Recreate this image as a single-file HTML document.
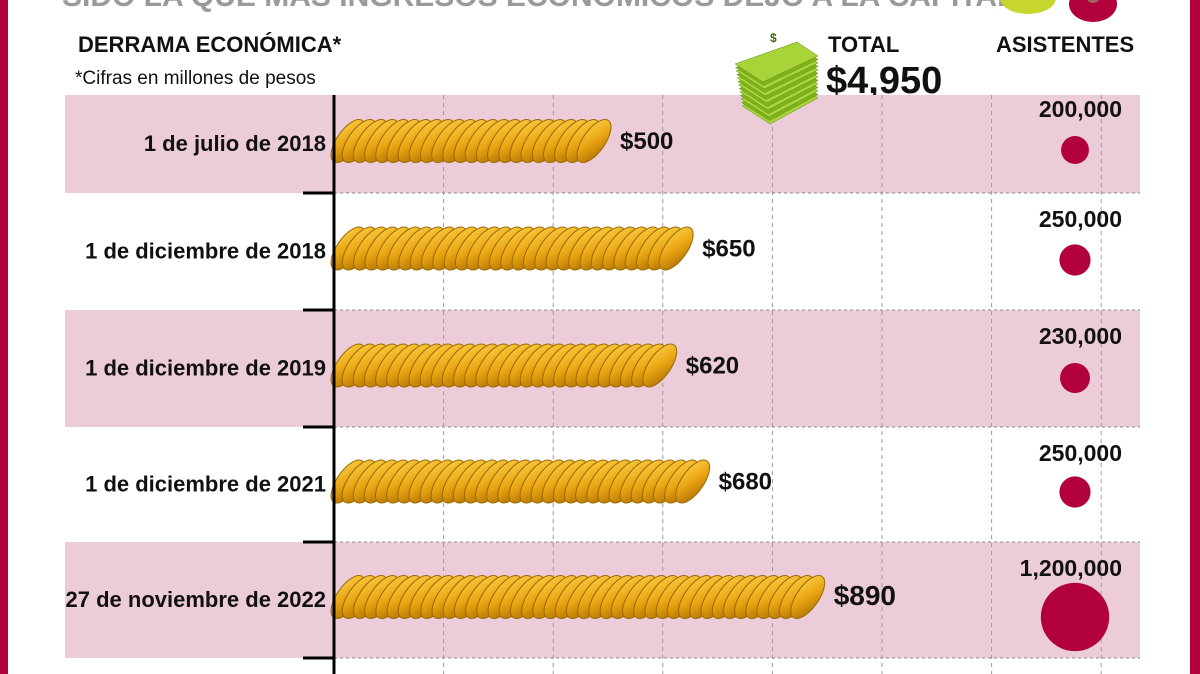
<!DOCTYPE html>
<html><head><meta charset="utf-8"><style>
html,body{margin:0;padding:0;background:#fff;}
body{width:1200px;height:674px;overflow:hidden;position:relative;font-family:"Liberation Sans Narrow","Liberation Sans",sans-serif;}
svg{position:absolute;left:0;top:0;}
text{font-family:"Liberation Sans Narrow","Liberation Sans",sans-serif;}
</style></head><body>
<svg id="chart" width="1200" height="674">
<defs>
<linearGradient id="coin" x1="0" y1="0" x2="1" y2="1">
<stop offset="0" stop-color="#ffd24a"/><stop offset="0.5" stop-color="#e9a412"/><stop offset="1" stop-color="#a86a00"/>
</linearGradient>
</defs>
<rect x="0" y="0" width="8" height="674" fill="#b1003b"/>
<rect x="1190" y="0" width="10" height="674" fill="#b1003b"/>
<text x="62" y="6" font-size="30" fill="#9a9a9a" font-weight="bold">SIDO LA QUE MÁS INGRESOS ECONÓMICOS DEJÓ A LA CAPITAL</text>
<ellipse cx="1028" cy="-2" rx="28" ry="16" fill="#c6d62e"/>
<ellipse cx="1093" cy="4" rx="24" ry="18" fill="#b1003b"/>
<circle cx="1093" cy="-4" r="7" fill="#9a6a5a"/>
<text x="78" y="52" font-size="22" font-weight="bold" fill="#111">DERRAMA ECONÓMICA*</text>
<text x="75" y="84" font-size="19" fill="#111">*Cifras en millones de pesos</text>
<text x="828" y="52" font-size="22" font-weight="bold" fill="#111">TOTAL</text>
<text x="826" y="93" font-size="38" font-weight="bold" fill="#111">$4,950</text>
<text x="996" y="52" font-size="22" font-weight="bold" fill="#111">ASISTENTES</text>
<g id="rows"></g>
<g id="grid"></g>
<g id="money">
</g>
<g id="marks"></g>
<line x1="334" y1="95" x2="334" y2="674" stroke="#000" stroke-width="3"/>
</svg>
<script>
const categories=["1 de julio de 2018","1 de diciembre de 2018","1 de diciembre de 2019","1 de diciembre de 2021","27 de noviembre de 2022"];
const derrama=[500,650,620,680,890];
const derramaLabels=["$500","$650","$620","$680","$890"];
const asistentes=[200000,250000,230000,250000,1200000];
const asistentesLabels=["200,000","250,000","230,000","250,000","1,200,000"];
const gridTicks=[200,400,600,800,1000,1200,1400];

const NS="http://www.w3.org/2000/svg";
const X0=334, PX=0.548;
const xs=v=>X0+v*PX;
const rowTop=[95,193,310,427,542];
const rowBot=[193,310,427,542,658];
const rScale=v=>Math.sqrt(v)*0.0312;
function mk(t,a,p){const e=document.createElementNS(NS,t);for(const k in a)e.setAttribute(k,a[k]);(p||document.getElementById('marks')).appendChild(e);return e;}
const rows=document.getElementById('rows'),grid=document.getElementById('grid');
categories.forEach((c,i)=>{
  if(i%2===0){
    const r=mk('rect',{x:65,y:rowTop[i],width:1075,height:rowBot[i]-rowTop[i],fill:'#ecccd8'},rows);
    
    
  }
  const d=mk('line',{x1:334,y1:rowBot[i],x2:1140,y2:rowBot[i],stroke:'#888','stroke-dasharray':'3,3','stroke-width':1},grid);
  
  
  const t=mk('line',{x1:303,y1:rowBot[i],x2:334,y2:rowBot[i],stroke:'#000','stroke-width':3},grid);
  
  
});
gridTicks.forEach(g=>{
  const l=mk('line',{x1:xs(g),y1:95,x2:xs(g),y2:674,stroke:'#999','stroke-dasharray':'4,4','stroke-width':1},grid);
  
  
});
// money icon
const money=document.getElementById('money');
for(let k=12;k>=0;k--){
  const y=42+k*3.5;
  mk('polygon',{points:`${735+k*0.6},${y+22} ${797},${y} ${818},${y+14} ${763+k*0.6},${y+40}`,fill:k%2?'#7fb31c':'#a8d43a',stroke:'#5f8f10','stroke-width':0.5},money);
}
mk('text',{x:770,y:42,'font-size':12,fill:'#3d6a00','font-weight':'bold'},money).textContent='$';
categories.forEach((c,i)=>{
  const cy=(rowTop[i]+rowBot[i])/2-3;
  const lab=mk('text',{x:326,y:cy+10,'text-anchor':'end','font-size':22,'font-weight':'bold',fill:'#111'});
  lab.textContent=c;
  
  
  const g=mk('g',{});
  
  
  const end=xs(derrama[i]);
  const n=Math.max(1,Math.round((end-334-28)/11.2));
  for(let k=0;k<=n;k++){
    const cx=334+14+k*((end-334-28)/n);
    mk('ellipse',{cx:cx,cy:cy,rx:11,ry:25,transform:`rotate(35 ${cx} ${cy})`,fill:'url(#coin)',stroke:'#9a6a00','stroke-width':1},g);
  }
  const v=mk('text',{x:end+12,y:cy+8,'font-size':i===4?28:24,'font-weight':'bold',fill:'#111'});
  v.textContent=derramaLabels[i];
  
  
  const r=rScale(asistentes[i]);
  const dotY=i===4?617:[150,260,378,492][i];
  const dot=mk('circle',{cx:1075,cy:dotY,r:r,fill:'#b1003b'});
  
  
  const al=mk('text',{x:1122,y:rowTop[i]+(i===0?22:34),'text-anchor':'end','font-size':23,'font-weight':'bold',fill:'#111'});
  al.textContent=asistentesLabels[i];
  
  
});
</script>
</body></html>
